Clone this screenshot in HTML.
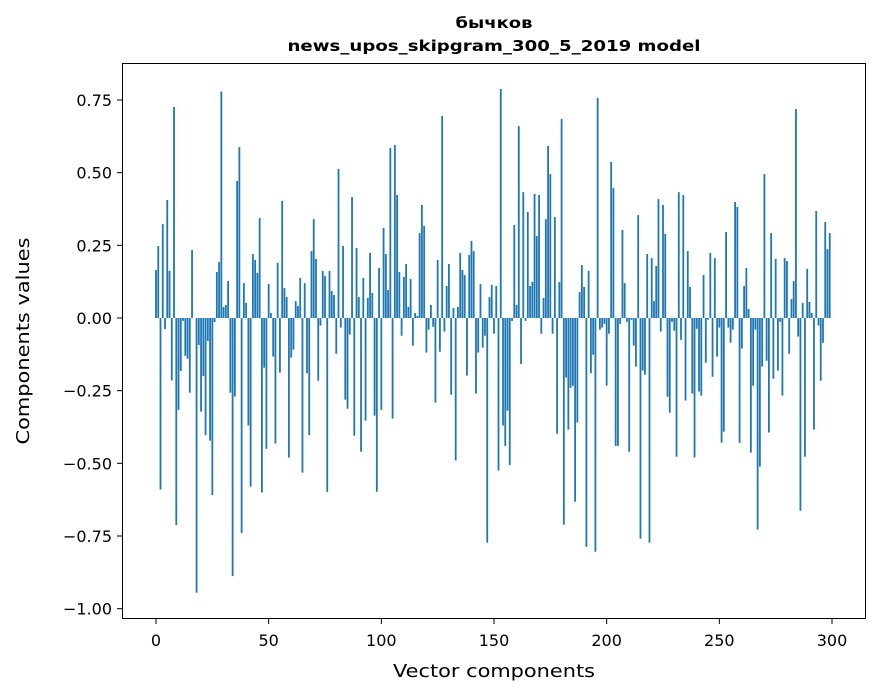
<!DOCTYPE html>
<html><head><meta charset="utf-8"><style>
body{margin:0;background:#fff;font-family:"DejaVu Sans","Liberation Sans",sans-serif;}
</style></head><body>
<svg id="chart" width="880" height="696" viewBox="0 0 880 696" xmlns="http://www.w3.org/2000/svg" font-family="DejaVu Sans, Liberation Sans, sans-serif">
<rect width="880" height="696" fill="#fff"/>
<text x="494" y="28" text-anchor="middle" font-size="15" font-weight="bold" textLength="77" lengthAdjust="spacingAndGlyphs">бычков</text>
<text x="494" y="51" text-anchor="middle" font-size="15" font-weight="bold" textLength="413" lengthAdjust="spacingAndGlyphs">news_upos_skipgram_300_5_2019 model</text>
<g id="bars"></g>
<g id="xaxis"></g>
<g id="yaxis"></g>
<rect x="122.5" y="63.5" width="743" height="555" fill="none" stroke="#000" stroke-width="1"/>
<text x="494" y="677" text-anchor="middle" font-size="18" textLength="202" lengthAdjust="spacingAndGlyphs">Vector components</text>
<text transform="translate(29,341) rotate(-90)" text-anchor="middle" font-size="18" textLength="207" lengthAdjust="spacingAndGlyphs">Components values</text>
</svg>
<script>
const values = [
0.165,0.248,-0.59,0.323,-0.038,0.406,0.162,-0.215,0.726,-0.712,
-0.316,-0.182,-0.01,-0.13,-0.14,-0.257,0.234,0.0,-0.945,-0.093,
-0.322,-0.2,-0.403,-0.079,-0.422,-0.609,-0.014,0.158,0.193,0.779,
0.038,0.045,0.127,-0.257,-0.888,-0.27,0.471,0.588,-0.74,0.12,
0.052,-0.37,-0.58,0.22,0.2,0.155,0.344,-0.6,-0.171,-0.45,
0.117,0.017,-0.133,-0.432,0.19,-0.188,0.403,0.103,0.072,-0.48,
-0.136,-0.109,0.058,0.041,0.138,-0.532,0.12,-0.19,-0.403,0.23,
0.34,0.203,-0.216,-0.026,0.162,0.145,-0.598,0.162,0.093,0.079,
-0.123,0.513,-0.033,0.248,-0.281,-0.312,-0.057,0.416,-0.405,0.241,
0.072,-0.46,0.138,-0.353,0.069,0.224,0.086,-0.336,-0.598,0.172,
-0.316,0.31,0.22,0.096,0.585,-0.346,0.595,0.423,0.158,-0.061,
0.141,0.186,0.038,0.134,-0.095,0.017,0.007,0.292,0.389,0.317,
-0.119,-0.04,0.045,-0.03,-0.291,0.2,-0.116,0.695,-0.047,0.11,
0.186,-0.264,0.034,-0.49,0.038,0.224,0.165,0.148,-0.198,0.217,
0.265,0.23,-0.26,-0.119,0.117,-0.102,-0.061,-0.773,0.072,0.114,
-0.054,0.11,-0.525,0.788,-0.37,-0.44,-0.319,-0.506,-0.01,0.32,
0.045,0.66,-0.158,0.433,-0.01,0.365,0.11,0.124,0.427,0.282,
0.423,-0.054,0.069,0.34,0.592,0.495,-0.054,0.347,-0.398,0.124,
0.685,-0.711,-0.205,-0.384,-0.24,-0.233,-0.632,-0.36,0.089,0.182,
0.107,-0.787,0.162,-0.19,-0.126,-0.804,0.757,-0.04,-0.033,-0.02,
-0.233,-0.054,0.537,0.447,-0.44,-0.44,-0.02,0.303,0.12,-0.013,
-0.46,-0.006,-0.095,-0.167,0.354,-0.759,-0.181,-0.195,0.22,-0.773,
0.206,0.058,0.179,0.409,-0.047,0.389,0.289,-0.271,-0.326,-0.013,
-0.044,-0.477,0.433,-0.075,0.423,-0.284,0.23,0.107,-0.26,-0.48,
-0.037,-0.253,-0.267,0.148,-0.154,-0.006,0.224,-0.202,0.206,-0.133,
-0.033,-0.429,-0.391,0.296,-0.033,-0.085,-0.04,0.399,0.382,-0.43,
-0.105,0.11,0.172,0.031,-0.463,-0.233,-0.04,-0.728,-0.511,-0.167,
0.495,-0.147,-0.394,0.292,-0.209,0.203,-0.181,-0.013,-0.267,0.206,
0.196,-0.123,0.065,0.127,0.719,-0.064,-0.663,0.052,-0.477,0.169,
0.055,0.017,-0.384,0.368,-0.026,-0.216,-0.085,0.33,0.237,0.292
];
const xTicks = [0,50,100,150,200,250,300];
const yTicks = [0.75,0.5,0.25,0,-0.25,-0.5,-0.75,-1.0];
const yTickLabels = ["0.75","0.50","0.25","0.00","\u22120.25","\u22120.50","\u22120.75","\u22121.00"];

const NS = "http://www.w3.org/2000/svg";
function xScale(v){ return 156 + v * 2.2533; }
function yScale(v){ return 318 - v * 290.67; }

const barsG = document.getElementById('bars');
values.forEach((v, i) => {
  const r = document.createElementNS(NS, 'rect');
  const y0 = yScale(0), y1 = yScale(v);
  r.setAttribute('x', xScale(i - 0.4));
  r.setAttribute('width', 0.8 * 2.2533);
  r.setAttribute('y', Math.min(y0, y1));
  r.setAttribute('height', Math.abs(y1 - y0));
  r.setAttribute('fill', '#1f77b4');
  
  
  barsG.appendChild(r);
});

const xg = document.getElementById('xaxis');
xTicks.forEach(t => {
  const x = xScale(t);
  const l = document.createElementNS(NS, 'line');
  l.setAttribute('x1', x); l.setAttribute('x2', x);
  l.setAttribute('y1', 619); l.setAttribute('y2', 624);
  l.setAttribute('stroke', '#000');
  
  
  xg.appendChild(l);
  const tx = document.createElementNS(NS, 'text');
  tx.setAttribute('x', x); tx.setAttribute('y', 646);
  tx.setAttribute('text-anchor', 'middle');
  tx.setAttribute('font-size', '16');
  tx.textContent = String(t);
  
  
  xg.appendChild(tx);
});

const yg = document.getElementById('yaxis');
yTicks.forEach((t, k) => {
  const y = yScale(t);
  const l = document.createElementNS(NS, 'line');
  l.setAttribute('x1', 117); l.setAttribute('x2', 122);
  l.setAttribute('y1', y); l.setAttribute('y2', y);
  l.setAttribute('stroke', '#000');
  
  
  yg.appendChild(l);
  const tx = document.createElementNS(NS, 'text');
  tx.setAttribute('x', 112); tx.setAttribute('y', y + 6);
  tx.setAttribute('text-anchor', 'end');
  tx.setAttribute('font-size', '16');
  tx.textContent = yTickLabels[k];
  
  
  yg.appendChild(tx);
});
</script>
</body></html>
